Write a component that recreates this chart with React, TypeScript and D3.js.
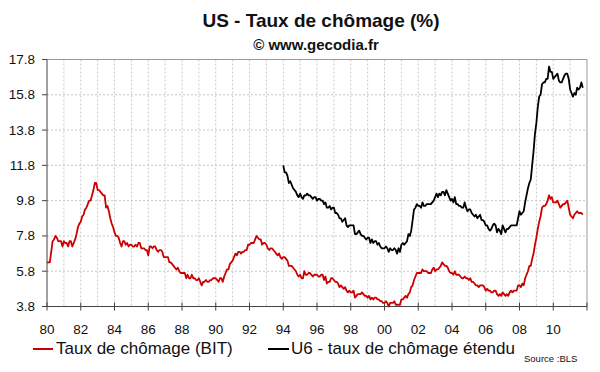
import React from "react";
import * as d3 from "d3";

// Monthly unemployment rate (BIT), Jan 1980 -> Oct 2011
const bitStart = 1980;
const bitRates = [
  6.3, 6.3, 6.3, 6.9, 7.5, 7.6, 7.8, 7.7, 7.5, 7.5, 7.5, 7.2, // 80
  7.5, 7.4, 7.4, 7.2, 7.5, 7.5, 7.2, 7.4, 7.6, 7.9, 8.3, 8.5, // 81
  8.6, 8.9, 9.0, 9.3, 9.4, 9.6, 9.8, 9.8, 10.1, 10.4, 10.8, 10.8, // 82
  10.4, 10.4, 10.3, 10.2, 10.1, 10.1, 9.4, 9.5, 9.2, 8.8, 8.5, 8.3, // 83
  8.0, 7.8, 7.8, 7.7, 7.4, 7.2, 7.5, 7.5, 7.3, 7.4, 7.2, 7.3, // 84
  7.3, 7.2, 7.2, 7.3, 7.2, 7.4, 7.4, 7.1, 7.1, 7.1, 7.0, 7.0, // 85
  6.7, 7.2, 7.2, 7.1, 7.2, 7.2, 7.0, 6.9, 7.0, 7.0, 6.9, 6.6, // 86
  6.6, 6.6, 6.6, 6.3, 6.3, 6.2, 6.1, 6.0, 5.9, 6.0, 5.8, 5.7, // 87
  5.7, 5.7, 5.7, 5.4, 5.6, 5.4, 5.4, 5.6, 5.4, 5.4, 5.3, 5.3, // 88
  5.4, 5.2, 5.0, 5.2, 5.2, 5.3, 5.2, 5.2, 5.3, 5.3, 5.4, 5.4, // 89
  5.4, 5.3, 5.2, 5.4, 5.4, 5.2, 5.5, 5.7, 5.9, 5.9, 6.2, 6.3, // 90
  6.4, 6.6, 6.8, 6.7, 6.9, 6.9, 6.8, 6.9, 6.9, 7.0, 7.0, 7.3, // 91
  7.3, 7.4, 7.4, 7.4, 7.6, 7.8, 7.7, 7.6, 7.6, 7.3, 7.4, 7.4, // 92
  7.3, 7.1, 7.0, 7.1, 7.1, 7.0, 6.9, 6.8, 6.7, 6.8, 6.6, 6.5, // 93
  6.6, 6.6, 6.5, 6.4, 6.1, 6.1, 6.1, 6.0, 5.9, 5.8, 5.6, 5.5, // 94
  5.6, 5.4, 5.4, 5.8, 5.6, 5.6, 5.7, 5.7, 5.6, 5.5, 5.6, 5.6, // 95
  5.6, 5.5, 5.5, 5.6, 5.6, 5.3, 5.5, 5.1, 5.2, 5.2, 5.4, 5.4, // 96
  5.3, 5.2, 5.2, 5.1, 4.9, 5.0, 4.9, 4.8, 4.9, 4.7, 4.6, 4.7, // 97
  4.6, 4.6, 4.7, 4.3, 4.4, 4.5, 4.5, 4.5, 4.6, 4.5, 4.4, 4.4, // 98
  4.3, 4.4, 4.2, 4.3, 4.2, 4.3, 4.3, 4.2, 4.2, 4.1, 4.1, 4.0, // 99
  4.0, 4.1, 4.0, 3.8, 4.0, 4.0, 4.0, 4.1, 3.9, 3.9, 3.9, 3.9, // 00
  4.2, 4.2, 4.3, 4.4, 4.3, 4.5, 4.6, 4.9, 5.0, 5.3, 5.5, 5.7, // 01
  5.7, 5.7, 5.7, 5.9, 5.8, 5.8, 5.8, 5.7, 5.7, 5.7, 5.9, 6.0, // 02
  5.8, 5.9, 5.9, 6.0, 6.1, 6.3, 6.2, 6.1, 6.1, 6.0, 5.8, 5.7, // 03
  5.7, 5.6, 5.8, 5.6, 5.6, 5.6, 5.5, 5.4, 5.4, 5.5, 5.4, 5.4, // 04
  5.3, 5.4, 5.2, 5.2, 5.1, 5.0, 5.0, 4.9, 5.0, 5.0, 5.0, 4.9, // 05
  4.7, 4.8, 4.7, 4.7, 4.6, 4.6, 4.7, 4.7, 4.5, 4.4, 4.5, 4.4, // 06
  4.6, 4.5, 4.4, 4.5, 4.4, 4.6, 4.7, 4.6, 4.7, 4.7, 4.7, 5.0, // 07
  5.0, 4.9, 5.1, 5.0, 5.4, 5.6, 5.8, 6.1, 6.1, 6.5, 6.8, 7.3, // 08
  7.7, 8.2, 8.6, 8.9, 9.4, 9.5, 9.5, 9.6, 9.8, 10.1, 9.9, 10.0, // 09
  9.7, 9.7, 9.7, 9.8, 9.6, 9.4, 9.5, 9.6, 9.6, 9.7, 9.8, 9.4, // 10
  9.0, 8.9, 8.8, 9.0, 9.1, 9.2, 9.1, 9.1, 9.1, 9.0, // 11
];

// Monthly U6 rate, Jan 1994 -> Oct 2011
const u6Start = 1994;
const u6Rates = [
  11.8, 11.4, 11.4, 11.2, 10.8, 10.9, 10.7, 10.5, 10.4, 10.3, 10.1, 10.0, // 94
  10.2, 10.0, 9.9, 10.1, 10.1, 10.2, 10.1, 10.1, 10.0, 9.9, 10.0, 10.0, // 95
  9.8, 9.9, 9.9, 9.8, 9.8, 9.6, 9.7, 9.4, 9.4, 9.5, 9.3, 9.4, // 96
  9.4, 9.1, 9.1, 9.0, 8.8, 8.8, 8.6, 8.7, 8.8, 8.4, 8.3, 8.4, // 97
  8.4, 8.4, 8.4, 7.9, 7.9, 8.0, 8.1, 7.9, 7.8, 7.8, 7.7, 7.6, // 98
  7.7, 7.7, 7.4, 7.6, 7.4, 7.5, 7.5, 7.3, 7.4, 7.2, 7.1, 7.1, // 99
  7.1, 7.2, 7.1, 6.9, 7.1, 7.0, 7.0, 7.1, 7.0, 6.8, 7.1, 6.9, // 00
  7.3, 7.4, 7.3, 7.4, 7.5, 7.9, 7.8, 8.1, 8.7, 9.3, 9.4, 9.6, // 01
  9.5, 9.5, 9.4, 9.7, 9.5, 9.5, 9.6, 9.6, 9.6, 9.6, 9.7, 9.8, // 02
  10.0, 10.2, 10.0, 10.2, 10.1, 10.3, 10.3, 10.1, 10.4, 10.2, 10.0, 9.8, // 03
  9.9, 9.7, 10.0, 9.6, 9.6, 9.5, 9.5, 9.4, 9.4, 9.7, 9.4, 9.2, // 04
  9.3, 9.3, 9.1, 9.0, 8.9, 9.0, 8.8, 8.9, 9.0, 8.7, 8.7, 8.6, // 05
  8.4, 8.4, 8.2, 8.1, 8.2, 8.4, 8.5, 8.4, 8.0, 8.2, 8.1, 7.9, // 06
  8.4, 8.2, 8.0, 8.2, 8.2, 8.3, 8.4, 8.4, 8.4, 8.4, 8.4, 8.8, // 07
  9.2, 9.0, 9.1, 9.2, 9.7, 10.1, 10.5, 10.8, 11.0, 11.8, 12.6, 13.6, // 08
  14.2, 15.1, 15.7, 15.8, 16.4, 16.5, 16.5, 16.7, 16.7, 17.4, 17.1, 17.1, // 09
  16.7, 16.8, 16.9, 17.0, 16.6, 16.5, 16.5, 16.7, 16.9, 17.0, 17.0, 16.7, // 10
  16.1, 15.9, 15.7, 15.9, 15.8, 16.2, 16.1, 16.2, 16.5, 16.2, // 11
];

const yTicks = [3.8, 5.8, 7.8, 9.8, 11.8, 13.8, 15.8, 17.8];
const xTickYears = [1980, 1982, 1984, 1986, 1988, 1990, 1992, 1994, 1996, 1998, 2000, 2002, 2004, 2006, 2008, 2010];
const xTickLabels = ["80", "82", "84", "86", "88", "90", "92", "94", "96", "98", "00", "02", "04", "06", "08", "10"];
const gridYears = d3.range(1981, 2012);

const width = 600;
const height = 372;
const margin = { top: 59.5, right: 13, bottom: 65.5, left: 47 };
const font = "'Liberation Sans', Arial, sans-serif";

const App = () => {
  const x = d3.scaleLinear().domain([1980, 2012]).range([margin.left, width - margin.right]);
  const y = d3.scaleLinear().domain([3.8, 17.8]).range([height - margin.bottom, margin.top]);

  const toPoints = (start: number, vals: number[]) =>
    vals.map((v, i) => ({ t: start + i / 12, v }));

  const line = d3
    .line<{ t: number; v: number }>()
    .x((d) => x(d.t))
    .y((d) => y(d.v));

  const bitPath = line(toPoints(bitStart, bitRates)) || "";
  const u6Path = line(toPoints(u6Start, u6Rates)) || "";

  const x0 = x(1980);
  const x1 = x(2012);
  const yTop = y(17.8);
  const yBot = y(3.8);

  return (
    <svg
      width={width}
      height={height}
      style={{ position: "absolute", left: 0, top: 0, background: "#fff" }}
      fontFamily={font}
    >
      <rect width={width} height={height} fill="#fff" />
      <text x={321} y={27} textAnchor="middle" fontSize={19} fontWeight="bold" fill="#111">
        US - Taux de chômage (%)
      </text>
      <text x={316} y={50} textAnchor="middle" fontSize={15} fontWeight="bold" fill="#111">
        © www.gecodia.fr
      </text>

      {/* grid */}
      <g stroke="#c8c8c8" strokeWidth={1} strokeDasharray="2,2">
        {gridYears.map((yr) => (
          <line key={"gx" + yr} x1={x(yr)} x2={x(yr)} y1={yTop} y2={yBot} />
        ))}
        {yTicks.slice(1, -1).map((v) => (
          <line key={"gy" + v} x1={x0} x2={x1} y1={y(v)} y2={y(v)} />
        ))}
      </g>

      {/* frame */}
      <line x1={x0} x2={x1} y1={yTop} y2={yTop} stroke="#999" />
      <line x1={x1} x2={x1} y1={yTop} y2={yBot} stroke="#999" />
      <line x1={x0} x2={x0} y1={yTop} y2={yBot} stroke="#444" />
      <line x1={x0} x2={x1} y1={yBot} y2={yBot} stroke="#444" />

      {/* y axis */}
      {yTicks.map((v) => (
        <g key={"yt" + v}>
          <line x1={x0 - 5} x2={x0} y1={y(v)} y2={y(v)} stroke="#444" />
          <text x={x0 - 12} y={y(v) + 4.5} textAnchor="end" fontSize={13.5} fill="#111">
            {v.toFixed(1)}
          </text>
        </g>
      ))}

      {/* x axis */}
      {[...xTickYears, 2012].map((yr) => (
        <line key={"xt" + yr} x1={x(yr)} x2={x(yr)} y1={yBot - 4} y2={yBot + 4} stroke="#444" />
      ))}
      {xTickYears.map((yr, i) => (
        <text key={"xl" + yr} x={x(yr)} y={334} textAnchor="middle" fontSize={13.5} fill="#111">
          {xTickLabels[i]}
        </text>
      ))}

      {/* series */}
      <path d={u6Path} fill="none" stroke="#000" strokeWidth={1.8} strokeLinejoin="round" />
      <path d={bitPath} fill="none" stroke="#cc0000" strokeWidth={1.8} strokeLinejoin="round" />

      {/* legend */}
      <line x1={33} x2={53} y1={349} y2={349} stroke="#cc0000" strokeWidth={2} />
      <text x={56} y={354} fontSize={17} fill="#111">Taux de chômage (BIT)</text>
      <line x1={268} x2={289} y1={349} y2={349} stroke="#000" strokeWidth={2} />
      <text x={291} y={354} fontSize={17} fill="#111">U6 - taux de chômage étendu</text>
      <text x={524} y={361.5} fontSize={9.5} fill="#111">Source :BLS</text>
    </svg>
  );
};

export default App;
